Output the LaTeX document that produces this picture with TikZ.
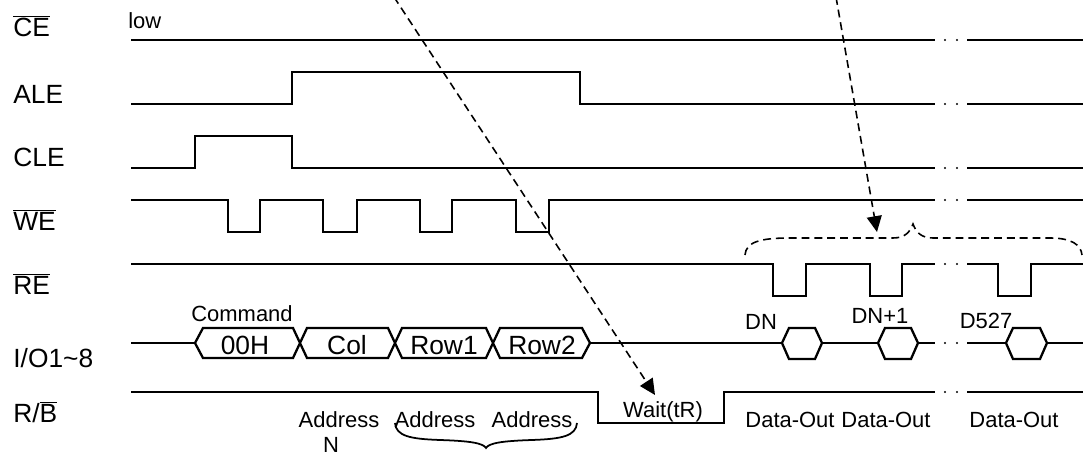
\documentclass[tikz,border=0pt]{standalone}
\usepackage{fontspec}
\setmainfont{Liberation Sans}
\usetikzlibrary{positioning,arrows.meta}

\begin{document}
\begin{tikzpicture}[
    x=0.02cm, y=-0.02cm,
    wave/.style={line width=1.5pt},
    busline/.style={line width=1.3pt},
    signame/.style={anchor=base west, inner sep=0pt, font=\fontsize{15}{18}\selectfont},
    small/.style={anchor=base, inner sep=0pt, font=\fontsize{12.5}{15}\selectfont},
    bustext/.style={anchor=base, inner sep=0pt, font=\fontsize{15}{18}\selectfont},
    pointer/.style={dash pattern=on 4.5pt off 2.8pt, line width=0.9pt, -{Triangle[length=9pt,width=8.5pt]}},
    gapdot/.style={fill=black}
]
\useasboundingbox (0,0) rectangle (1083,455);

% signal names
\node[signame] (ce) at (13,37) {$\overline{\mbox{CE}}$};
\node[signame] (ale) at (13,104) {ALE};
\node[signame] (cle) at (13,167) {CLE};
\node[signame] (we) at (13,231) {$\overline{\mbox{WE}}$};
\node[signame] (re) at (13,295) {$\overline{\mbox{RE}}$};
\node[signame] (io) at (13,368) {I/O1\textasciitilde 8};
\node[signame] (rb) at (13,423) {R/$\overline{\mbox{B}}$};

% waveforms
\draw[wave] (131,40) -- (935,40);
\draw[wave] (967,40) -- (1083,40);
\draw[wave] (131,104) -- (292,104) -- (292,72) -- (580,72) -- (580,104) -- (935,104);
\draw[wave] (967,104) -- (1083,104);
\draw[wave] (131,168) -- (195,168) -- (195,136) -- (292,136) -- (292,168) -- (935,168);
\draw[wave] (967,168) -- (1083,168);
\draw[wave] (131,200) -- (228,200) -- (228,232) -- (260,232) -- (260,200) -- (323,200) -- (323,232) -- (357,232) -- (357,200)
    -- (420,200) -- (420,232) -- (452,232) -- (452,200) -- (516,200) -- (516,232) -- (549,232) -- (549,200) -- (935,200);
\draw[wave] (967,200) -- (1083,200);
\draw[wave] (131,264) -- (773,264) -- (773,296) -- (806,296) -- (806,264) -- (870,264) -- (870,296) -- (902,296) -- (902,264) -- (935,264);
\draw[wave] (967,264) -- (998,264) -- (998,296) -- (1031,296) -- (1031,264) -- (1083,264);
\draw[wave] (131,392) -- (598,392) -- (598,423) -- (724,423) -- (724,392) -- (935,392);
\draw[wave] (967,392) -- (1083,392);

% I/O bus
\draw[wave] (131,343) -- (195,343);
\draw[busline] (195,343) -- (203,328) -- (293,328) -- (307,358) -- (388,358) -- (402,328) -- (486,328) -- (500,358) -- (582,358) -- (590,343)
    -- (582,328) -- (500,328) -- (486,358) -- (402,358) -- (388,328) -- (307,328) -- (293,358) -- (203,358) -- cycle;
\draw[wave] (590,343) -- (782,343);
\draw[busline] (782,343) -- (789,328) -- (815,328) -- (822,343) -- (815,359) -- (789,359) -- cycle;
\draw[wave] (822,343) -- (878,343);
\draw[busline] (878,343) -- (885,328) -- (911,328) -- (918,343) -- (911,359) -- (885,359) -- cycle;
\draw[wave] (918,343) -- (935,343);
\draw[wave] (967,343) -- (1006,343);
\draw[busline] (1006,343) -- (1013,328) -- (1040,328) -- (1047,343) -- (1040,359) -- (1013,359) -- cycle;
\draw[wave] (1047,343) -- (1083,343);

% gap dots
\fill[gapdot] (945,40) circle (0.7pt) (957,40) circle (0.7pt);
\fill[gapdot] (945,104) circle (0.7pt) (957,104) circle (0.7pt);
\fill[gapdot] (945,168) circle (0.7pt) (957,168) circle (0.7pt);
\fill[gapdot] (945,200) circle (0.7pt) (957,200) circle (0.7pt);
\fill[gapdot] (945,264) circle (0.7pt) (957,264) circle (0.7pt);
\fill[gapdot] (945,343) circle (0.7pt) (957,343) circle (0.7pt);
\fill[gapdot] (945,392) circle (0.7pt) (957,392) circle (0.7pt);

% labels
\node[small, anchor=base west] (low) at (128,29) {low};
\node[small] (cmd) at (242,322) {Command};
\node[bustext] (c00h) at (245,355) {00H};
\node[bustext] (col) at (347,355) {Col};
\node[bustext] (row1) at (444,355) {Row1};
\node[bustext] (row2) at (542,355) {Row2};
\node[small] (dn) at (761,330) {DN};
\node[small] (dn1) at (880,324) {DN+1};
\node[small] (d527) at (986,329) {D527};
\node[small] (wait) at (663,418) {Wait(tR)};
\node[small] (out1) at (790,428) {Data-Out};
\node[small] (out2) at (886,428) {Data-Out};
\node[small] (out3) at (1014,428) {Data-Out};
\node[small] (addr1) at (339,428) {Address};
\node[small] (addrn) at (331,453) {N};
\node[small] (addr2) at (435,428) {Address};
\node[small] (addr3) at (532,428) {Address};

% braces
\draw[line width=1pt] (395,423) .. controls (396,436) and (410,439) .. (440,440) .. controls (470,441) and (483,443) .. (486,448)
    .. controls (489,443) and (502,441) .. (532,440) .. controls (562,439) and (576,436) .. (577,423);
\draw[line width=0.9pt, dash pattern=on 4.5pt off 2.8pt] (745,255) .. controls (746,242) and (760,238) .. (790,238) -- (893,238)
    .. controls (905,238) and (910,232) .. (913,224) .. controls (916,232) and (921,238) .. (933,238) -- (1050,238)
    .. controls (1072,238) and (1081,245) .. (1082,255);

% pointers
\coordinate (p1) at (394,-3);
\coordinate (p1end) at (655,395);
\coordinate (p2) at (836,-3);
\coordinate (p2end) at (877,232);
\draw[pointer] (p1) -- (p1end);
\draw[pointer] (p2) -- (p2end);
\end{tikzpicture}
\end{document}
